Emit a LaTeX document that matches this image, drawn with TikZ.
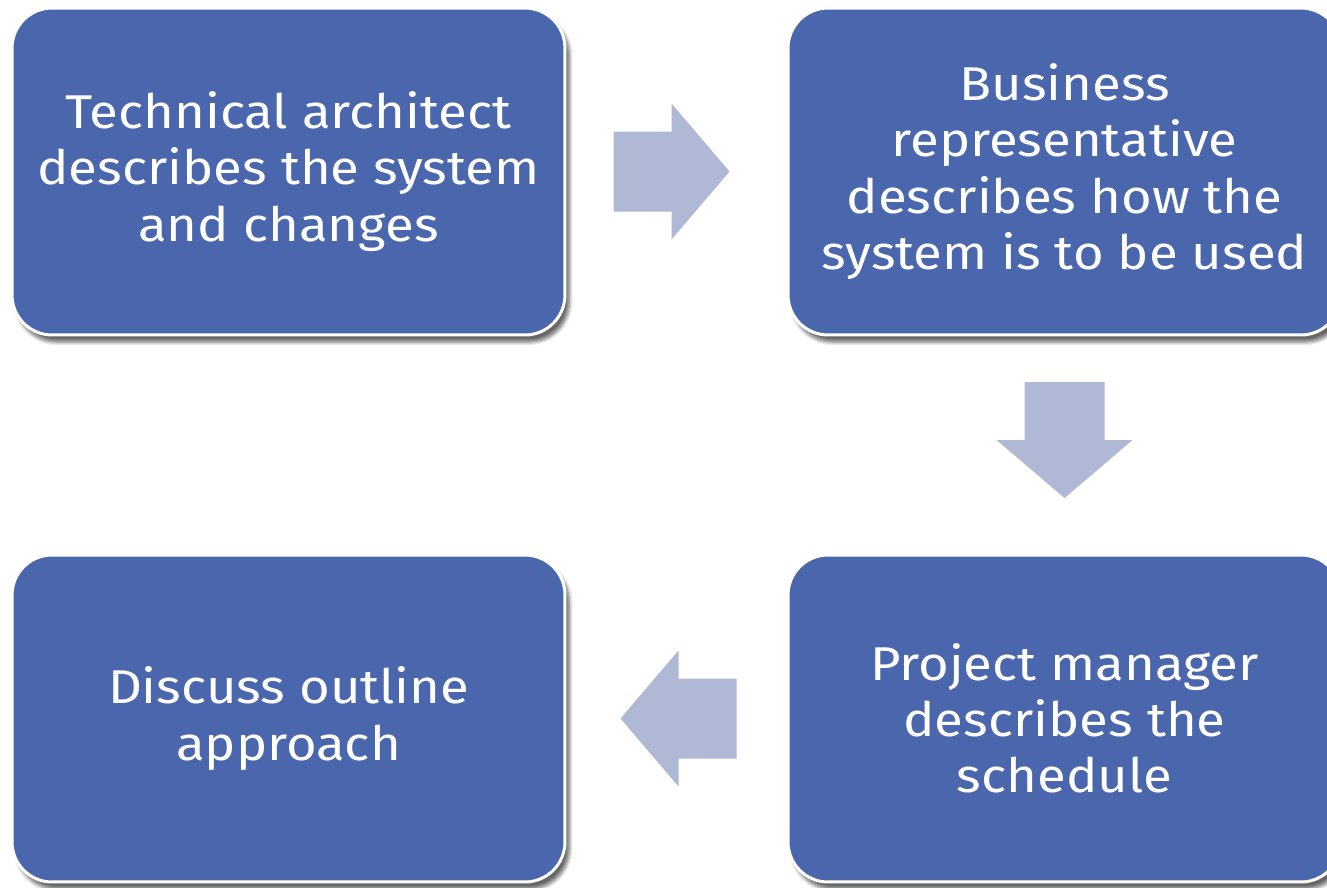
\documentclass[tikz,border=0pt]{standalone}
\usepackage{fontspec}
\setmainfont{Fira Sans}[FakeStretch=1.11]
\usetikzlibrary{calc,shadows.blur}

\definecolor{boxblue}{RGB}{74,102,172}
\definecolor{arrowgrey}{RGB}{175,184,212}

\tikzset{
  stage/.style={rounded corners=0.8cm, fill=boxblue, draw=white, line width=1.7pt,
    minimum width=11.06cm, minimum height=6.54cm, align=center, text=white,
    font=\fontsize{27}{32}\selectfont,
    blur shadow={shadow xshift=2.5pt, shadow yshift=-4pt, shadow blur steps=6, shadow opacity=60}},
  blockarrow/.pic={
    \fill[arrowgrey] (-58,-40) -- (0,-40) -- (0,-68) -- (58,0) -- (0,68) -- (0,40) -- (-58,40) -- cycle;
  }
}

\begin{document}
\begin{tikzpicture}[x=0.02cm,y=-0.02cm]
\useasboundingbox (0,0) rectangle (1327,887);

\node[stage] (tech) at (288.5,171.5) {Technical architect\\describes the system\\and changes};
\node[stage] (biz) at (1064.5,171.5) {Business\\representative\\describes how the\\system is to be used};
\node[stage] (pm) at (1064.5,718.5) {Project manager\\describes the\\schedule};
\node[stage] (disc) at (288.5,718.5) {Discuss outline\\approach};

% arrows between the stages
\pic at ($(tech.east)!0.5!(biz.west)+(-5,0)$) {blockarrow};
\pic[rotate=-90] at ($(biz.south)!0.5!(pm.north)+(0,-5)$) {blockarrow};
\pic[rotate=180] at ($(pm.west)!0.5!(disc.east)+(2,0)$) {blockarrow};
\end{tikzpicture}
\end{document}
